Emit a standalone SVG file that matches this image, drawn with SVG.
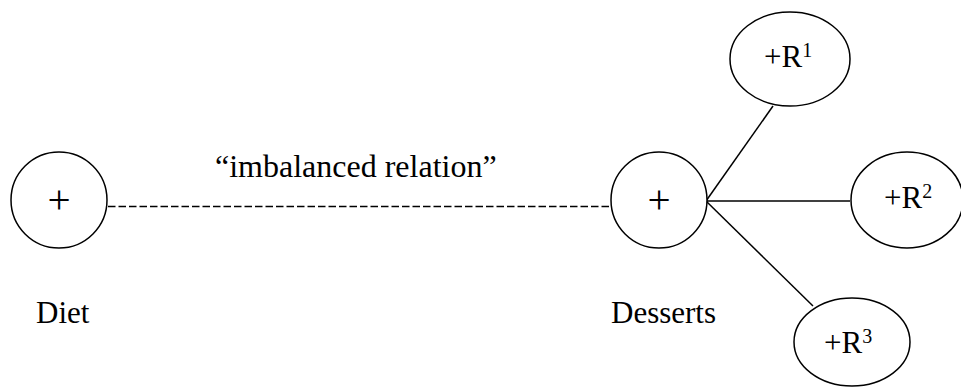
<svg xmlns="http://www.w3.org/2000/svg" width="961" height="392" viewBox="0 0 961 392">
<style>
.n{fill:#fff;stroke:#000;stroke-width:1.5}
.t{font-family:"Liberation Serif","Times New Roman",serif;font-size:31px;fill:#000}
.p{font-family:"Liberation Serif","Times New Roman",serif;font-size:41px;fill:#000}
.s{font-size:20px}
.e{stroke:#000;stroke-width:1.5;fill:none}
</style>
<rect width="961" height="392" fill="#fff"/>
<g id="connectors">
<line class="e" x1="108" y1="206.5" x2="611" y2="206.5" stroke-dasharray="7.5,3"/>
<line class="e" x1="706" y1="201" x2="773" y2="106"/>
<line class="e" x1="706" y1="201" x2="850" y2="201"/>
<line class="e" x1="706" y1="201" x2="813" y2="306"/>
</g>
<g id="diet">
<circle class="n" cx="59" cy="200" r="48"/>
<text class="p" x="59" y="213" text-anchor="middle">+</text>
<text class="t" x="36" y="323">Diet</text>
</g>
<g id="desserts">
<circle class="n" cx="659" cy="200" r="48"/>
<text class="p" x="659" y="213" text-anchor="middle">+</text>
<text class="t" x="611" y="323">Desserts</text>
</g>
<g id="r1">
<ellipse class="n" cx="790" cy="59" rx="60" ry="47"/>
<text class="t" x="764" y="67">+R<tspan class="s" dy="-10">1</tspan></text>
</g>
<g id="r2">
<ellipse class="n" cx="907" cy="200" rx="56" ry="48"/>
<text class="t" x="884" y="208">+R<tspan class="s" dy="-10">2</tspan></text>
</g>
<g id="r3">
<ellipse class="n" cx="852" cy="342" rx="58" ry="44"/>
<text class="t" x="824" y="353">+R<tspan class="s" dy="-10">3</tspan></text>
</g>
<text class="t" x="215" y="177" style="font-size:32px">“imbalanced relation”</text>
</svg>
